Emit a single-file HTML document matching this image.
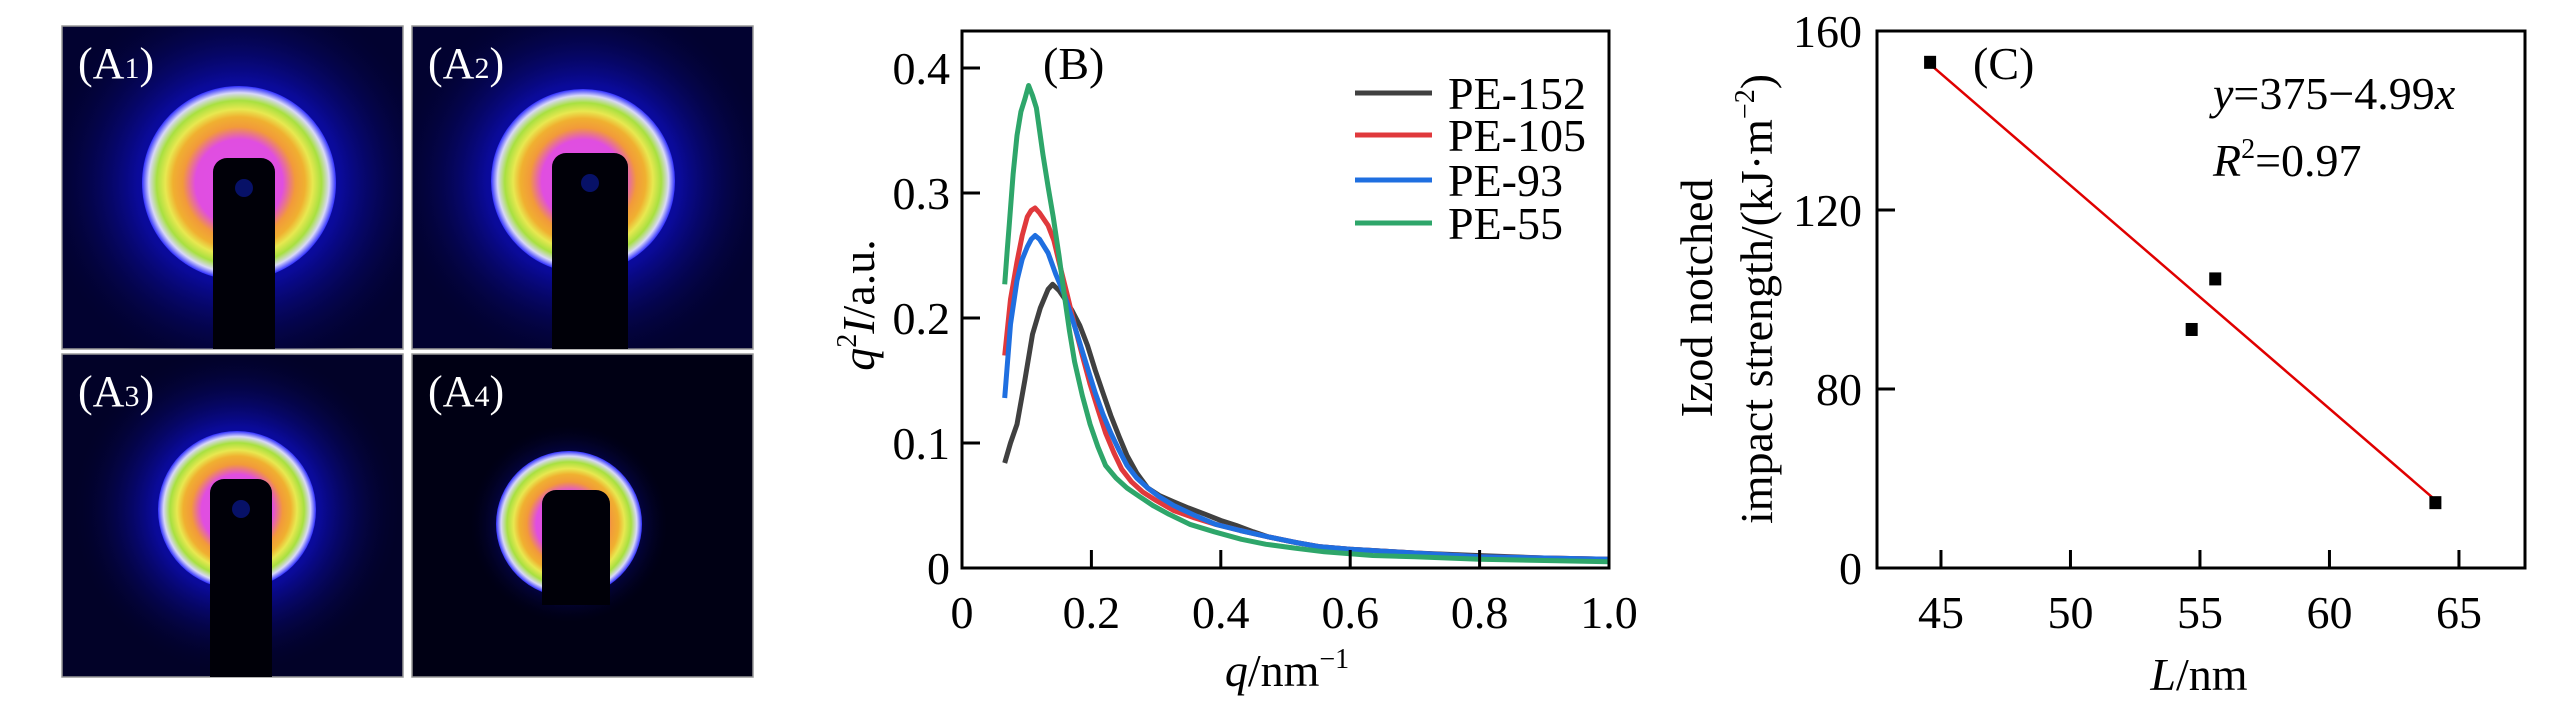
<!DOCTYPE html>
<html><head><meta charset="utf-8">
<style>
html,body{margin:0;padding:0;background:#fff;}
body{width:2567px;height:708px;overflow:hidden;font-family:"Liberation Serif",serif;}
svg{display:block;}
</style></head>
<body>
<svg id="fig" width="2567" height="708" viewBox="0 0 2567 708" xmlns="http://www.w3.org/2000/svg" font-family="Liberation Serif, serif">
<defs>
  <radialGradient id="glowA" cx="0.5" cy="0.5" r="0.5">
    <stop offset="0" stop-color="#1414e0"/>
    <stop offset="0.5" stop-color="#0a0a9a"/>
    <stop offset="1" stop-color="#02022a" stop-opacity="0"/>
  </radialGradient>
  <radialGradient id="ringA" cx="0.5" cy="0.5" r="0.5">
    <stop offset="0" stop-color="#e24fe8"/>
    <stop offset="0.45" stop-color="#e04ee0"/>
    <stop offset="0.58" stop-color="#f29a3a"/>
    <stop offset="0.68" stop-color="#f0b030"/>
    <stop offset="0.76" stop-color="#e8e850"/>
    <stop offset="0.85" stop-color="#a8e040"/>
    <stop offset="0.93" stop-color="#d8d8f8"/>
    <stop offset="1" stop-color="#3030ff"/>
  </radialGradient>
</defs>
<g id="panelA"></g>
<g id="panelB"></g>
<g id="panelC"></g>
</svg>
<script>
const NS="http://www.w3.org/2000/svg";
function mk(parent,tag,attrs,text){const e=document.createElementNS(NS,tag);for(const k in attrs)e.setAttribute(k,attrs[k]);if(text!==undefined)e.textContent=text;parent.appendChild(e);return e;}

/* ---------- Panel A: SAXS 2D patterns ---------- */
const tileLabels=["1","2","3","4"];
const tiles=[
 {x:62,y:26,cx:177,cy:157,r:97,bx:151,bw:62,bt:132,bb:324,bg:"#020230"},
 {x:412,y:26,cx:171,cy:155,r:92,bx:140,bw:76,bt:127,bb:324,bg:"#020230"},
 {x:62,y:354,cx:175,cy:156,r:79,bx:148,bw:62,bt:125,bb:323,bg:"#020228"},
 {x:412,y:354,cx:157,cy:170,r:73,bx:130,bw:68,bt:136,bb:251,bg:"#000014"}
];
const pA=document.getElementById('panelA');
tiles.forEach((t,i)=>{
  const g=mk(pA,'g',{transform:`translate(${t.x},${t.y})`});
  
  
  const w=341,h=323;
  mk(g,'rect',{x:0,y:0,width:w,height:h,fill:t.bg,stroke:'#999',"stroke-width":1.5});
  const clipId='clip'+i;
  const cp=mk(mk(g,'defs',{}),'clipPath',{id:clipId});
  mk(cp,'rect',{x:0,y:0,width:w,height:h});
  const cg=mk(g,'g',{"clip-path":`url(#${clipId})`});
  const glowR=t.r*(i===3?1.35:2.1);
  mk(cg,'circle',{cx:t.cx,cy:t.cy,r:glowR,fill:'url(#glowA)'});
  mk(cg,'circle',{cx:t.cx,cy:t.cy,r:t.r,fill:'url(#ringA)'});
  mk(cg,'rect',{x:t.bx,y:t.bt,width:t.bw,height:t.bb-t.bt,rx:14,fill:'#000008'});
  mk(cg,'rect',{x:t.bx,y:t.bt+20,width:t.bw,height:t.bb-t.bt-20,fill:'#000008'});
  if(i!==3) mk(cg,'circle',{cx:t.bx+t.bw/2,cy:t.bt+30,r:9,fill:'#0a1890',opacity:0.7});
  const lab=mk(g,'text',{x:16,y:52,fill:'#fff',"font-size":44});
  
  
  lab.appendChild(document.createTextNode('(A'));
  mk(lab,'tspan',{"font-size":30,dy:0},tileLabels[i]);
  lab.appendChild(document.createTextNode(')'));
});

/* ---------- Panel B: q^2 I vs q ---------- */
const qTicks=[0,0.2,0.4,0.6,0.8,1.0];
const qTickLabels=["0","0.2","0.4","0.6","0.8","1.0"];
const vTicks=[0,0.1,0.2,0.3,0.4];
const vTickLabels=["0","0.1","0.2","0.3","0.4"];
const seriesNames=["PE-152","PE-105","PE-93","PE-55"];
const q152=[0.066,0.075,0.085,0.097,0.109,0.121,0.133,0.140,0.150,0.158,0.170,0.182,0.194,0.206,0.218,0.230,0.243,0.255,0.270,0.287,0.305,0.327,0.350,0.376,0.400,0.424,0.450,0.473,0.510,0.554,0.600,0.635,0.700,0.796,0.900,1.0];
const v152=[0.084,0.100,0.115,0.150,0.187,0.208,0.223,0.227,0.222,0.216,0.206,0.194,0.178,0.158,0.140,0.122,0.105,0.090,0.076,0.064,0.058,0.053,0.048,0.043,0.038,0.034,0.029,0.025,0.021,0.017,0.015,0.014,0.012,0.010,0.008,0.007];
const q105=[0.066,0.075,0.085,0.093,0.101,0.107,0.113,0.120,0.133,0.142,0.150,0.162,0.174,0.186,0.198,0.210,0.222,0.235,0.247,0.262,0.279,0.300,0.327,0.360,0.392,0.430,0.473,0.520,0.554,0.600,0.700,0.800,0.900,1.0];
const v105=[0.170,0.215,0.245,0.266,0.281,0.286,0.288,0.284,0.274,0.262,0.245,0.220,0.194,0.170,0.147,0.127,0.108,0.092,0.079,0.069,0.061,0.054,0.046,0.040,0.035,0.030,0.025,0.020,0.017,0.015,0.012,0.009,0.008,0.007];
const q93=[0.066,0.075,0.085,0.093,0.101,0.107,0.113,0.120,0.133,0.145,0.158,0.170,0.182,0.194,0.206,0.218,0.230,0.243,0.255,0.270,0.287,0.305,0.327,0.360,0.392,0.430,0.473,0.520,0.554,0.600,0.700,0.800,0.900,1.0];
const v93=[0.136,0.195,0.230,0.247,0.257,0.263,0.266,0.263,0.252,0.235,0.219,0.200,0.180,0.160,0.140,0.123,0.108,0.094,0.082,0.072,0.064,0.057,0.050,0.042,0.035,0.030,0.025,0.020,0.017,0.015,0.012,0.009,0.008,0.007];
const q55=[0.066,0.070,0.073,0.079,0.085,0.091,0.097,0.103,0.109,0.115,0.125,0.133,0.141,0.150,0.158,0.166,0.174,0.186,0.198,0.210,0.222,0.238,0.255,0.275,0.295,0.320,0.352,0.390,0.432,0.470,0.513,0.560,0.635,0.700,0.800,0.900,1.0];
const v55=[0.227,0.255,0.274,0.315,0.346,0.365,0.375,0.386,0.378,0.368,0.331,0.305,0.281,0.250,0.219,0.190,0.165,0.138,0.115,0.097,0.082,0.072,0.064,0.057,0.050,0.043,0.035,0.029,0.023,0.019,0.016,0.013,0.010,0.009,0.007,0.006,0.005];
const seriesQ=[q152,q105,q93,q55];
const seriesV=[v152,v105,v93,v55];
const seriesColors=["#404040","#e0393c","#1f6fe0","#2ea66a"];

(function(){
  const p=document.getElementById('panelB');
  const L=962,R=1609,T=31,B=568;
  const xS=q=>L+(q-0)/(1.0-0)*(R-L);
  const yS=v=>B-v*(B-68)/0.4;
  seriesQ.forEach((qs,si)=>{
    const d=qs.map((q,j)=>(j?'L':'M')+xS(q).toFixed(1)+','+yS(seriesV[si][j]).toFixed(1)).join(' ');
    const path=mk(p,'path',{d:d,fill:'none',stroke:seriesColors[si],"stroke-width":5,"stroke-linejoin":"round"});
    
    
  });
  const frame=mk(p,'rect',{x:L,y:T,width:R-L,height:B-T,fill:'none',stroke:'#000',"stroke-width":3});
  
  
  qTicks.forEach((q,i)=>{
    const x=xS(q);
    if(i>0&&i<qTicks.length-1) mk(p,'line',{x1:x,y1:B,x2:x,y2:B-18,stroke:'#000',"stroke-width":3});
    const t=mk(p,'text',{x:x,y:628,"font-size":46,"text-anchor":"middle"},qTickLabels[i]);
    
    
  });
  vTicks.forEach((v,i)=>{
    const y=yS(v);
    if(i>0) mk(p,'line',{x1:L,y1:y,x2:L+18,y2:y,stroke:'#000',"stroke-width":3});
    const t=mk(p,'text',{x:950,y:y+16,"font-size":46,"text-anchor":"end"},vTickLabels[i]);
    
    
  });
  const xt=mk(p,'text',{x:1287,y:686,"font-size":46,"text-anchor":"middle"});
  
  
  mk(xt,'tspan',{"font-style":"italic"},'q');
  xt.appendChild(document.createTextNode('/nm'));
  mk(xt,'tspan',{"font-size":28,dy:-18},'−1');
  const yt=mk(p,'text',{x:0,y:0,"font-size":46,"text-anchor":"middle",transform:'translate(874,305) rotate(-90)'});
  
  
  mk(yt,'tspan',{"font-style":"italic"},'q');
  mk(yt,'tspan',{"font-size":28,dy:-18},'2');
  mk(yt,'tspan',{"font-style":"italic",dy:18},'I');
  mk(yt,'tspan',{},'/a.u.');
  const lb=mk(p,'text',{x:1043,y:79,"font-size":46},'(B)');
  
  
  const legY=[93,135,180,223];
  seriesNames.forEach((n,i)=>{
    const g=mk(p,'g',{});
    
    
    mk(g,'line',{x1:1355,y1:legY[i],x2:1432,y2:legY[i],stroke:seriesColors[i],"stroke-width":5});
    mk(g,'text',{x:1448,y:legY[i]+16,"font-size":46},n);
  });
})();

/* ---------- Panel C: impact strength vs L ---------- */
const lValues=[44.58,54.68,55.59,64.09];
const impactValues=[153.0,93.3,104.6,54.6];
const lTicks=[45,50,55,60,65];
const lTickLabels=["45","50","55","60","65"];
const sTicks=[40,80,120,160];
const sTickLabels=["0","80","120","160"];
const fitIntercept=375, fitSlope=-4.99;
const fitRange=[44.58,64.09];

(function(){
  const p=document.getElementById('panelC');
  const L=1877,R=2525,T=31,B=568;
  const xMin=42.53,xMax=67.55,yMin=40,yMax=160;
  const xS=v=>L+(v-xMin)/(xMax-xMin)*(R-L);
  const yS=v=>B-(v-yMin)/(yMax-yMin)*(B-T);
  const fit=mk(p,'line',{x1:xS(fitRange[0]),y1:yS(fitIntercept+fitSlope*fitRange[0]),x2:xS(fitRange[1]),y2:yS(fitIntercept+fitSlope*fitRange[1]),stroke:'#e00000',"stroke-width":2.5});
  
  
  lValues.forEach((v,i)=>{
    const r=mk(p,'rect',{x:xS(v)-6,y:yS(impactValues[i])-6.5,width:12,height:13,fill:'#000'});
    
    
  });
  const frame=mk(p,'rect',{x:L,y:T,width:R-L,height:B-T,fill:'none',stroke:'#000',"stroke-width":3});
  
  
  lTicks.forEach((v,i)=>{
    const x=xS(v);
    mk(p,'line',{x1:x,y1:B,x2:x,y2:B-18,stroke:'#000',"stroke-width":3});
    const t=mk(p,'text',{x:x,y:628,"font-size":46,"text-anchor":"middle"},lTickLabels[i]);
    
    
  });
  sTicks.forEach((v,i)=>{
    const y=yS(v);
    if(i>0&&i<sTicks.length-1) mk(p,'line',{x1:L,y1:y,x2:L+18,y2:y,stroke:'#000',"stroke-width":3});
    const t=mk(p,'text',{x:1862,y:y+16,"font-size":46,"text-anchor":"end"},sTickLabels[i]);
    
    
  });
  const xt=mk(p,'text',{x:2199,y:690,"font-size":46,"text-anchor":"middle"});
  
  
  mk(xt,'tspan',{"font-style":"italic"},'L');
  xt.appendChild(document.createTextNode('/nm'));
  const yt1=mk(p,'text',{x:0,y:0,"font-size":46,"text-anchor":"middle",transform:'translate(1712,298) rotate(-90)'},'Izod notched');
  
  
  const yt2=mk(p,'text',{x:0,y:0,"font-size":46,"text-anchor":"middle",transform:'translate(1772,299) rotate(-90)'});
  
  
  yt2.appendChild(document.createTextNode('impact strength/(kJ·m'));
  mk(yt2,'tspan',{"font-size":28,dy:-18},'−2');
  mk(yt2,'tspan',{dy:18},')');
  const lb=mk(p,'text',{x:1973,y:79,"font-size":46},'(C)');
  
  
  const eq=mk(p,'text',{x:2213,y:109,"font-size":46});
  
  
  mk(eq,'tspan',{"font-style":"italic"},'y');
  eq.appendChild(document.createTextNode('=375−4.99'));
  mk(eq,'tspan',{"font-style":"italic"},'x');
  const r2=mk(p,'text',{x:2213,y:176,"font-size":46});
  
  
  mk(r2,'tspan',{"font-style":"italic"},'R');
  mk(r2,'tspan',{"font-size":28,dy:-18},'2');
  mk(r2,'tspan',{dy:18},'=0.97');
})();
</script>
</body></html>
